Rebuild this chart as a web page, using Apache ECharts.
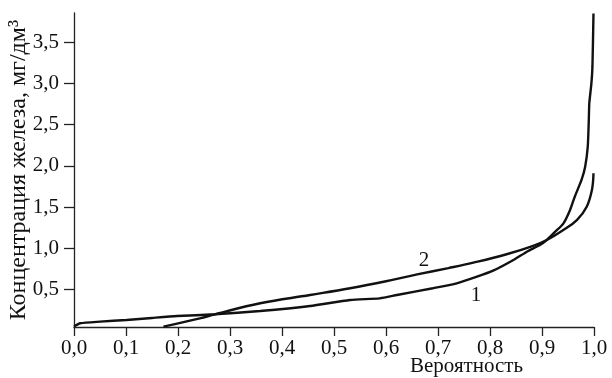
<!DOCTYPE html>
<html><head><meta charset="utf-8">
<script src="https://cdn.jsdelivr.net/npm/echarts@6/dist/echarts.min.js"></script>
<style>html,body{margin:0;padding:0;background:#fff}#c{width:612px;height:378px}</style>
</head><body><div id="c"></div>
<script>
const xTicks = [0,0.1,0.2,0.3,0.4,0.5,0.6,0.7,0.8,0.9,1.0];
const yTicks = [0.5,1.0,1.5,2.0,2.5,3.0,3.5];
const curve1X = [0,0.012,0.05,0.101,0.15,0.198,0.271,0.358,0.454,0.531,0.588,0.621,0.69,0.736,0.775,0.806,0.845,0.871,0.896,0.909,0.925,0.941,0.954,0.963,0.976,0.983,0.988,0.990,0.991,0.995,0.997,0.999];
const curve1Y = [0.05,0.09,0.11,0.13,0.155,0.178,0.199,0.239,0.30,0.373,0.393,0.433,0.515,0.575,0.655,0.728,0.858,0.959,1.04,1.10,1.20,1.30,1.465,1.626,1.829,1.99,2.233,2.557,2.763,3.0,3.204,3.85];
const curve2X = [0.172,0.242,0.271,0.358,0.454,0.531,0.60,0.66,0.72,0.768,0.832,0.883,0.909,0.941,0.967,0.986,0.996,0.999];
const curve2Y = [0.049,0.15,0.199,0.333,0.433,0.515,0.60,0.683,0.76,0.826,0.928,1.03,1.10,1.222,1.343,1.505,1.708,1.91];
const seriesNames = ['1','2'];
const labelPos = [[0.773,0.433],[0.673,0.858]];

const zip = (a,b)=>a.map((v,i)=>[v,b[i]]);
const font = '"Liberation Serif", "Times New Roman", serif';
const chart = echarts.init(document.getElementById('c'), null, {renderer:'canvas'});
function mk(name, xs, ys, pos, smooth){
  return {
    type:'line', name, data: zip(xs,ys), showSymbol:false, smooth,
    lineStyle:{color:'#111', width:2.4}, silent:true, animation:false,
    markPoint:{symbol:'circle', symbolSize:0, silent:true,
      label:{show:true, formatter:name, color:'#111', fontFamily:font, fontSize:21, position:'inside'},
      data:[{coord:pos}]}
  };
}
chart.setOption({
  animation:false,
  grid:{left:74,right:18,top:13,bottom:51,containLabel:false,outerBoundsMode:'none'},
  xAxis:{type:'value',min:0,max:1,interval:0.1,
    axisLine:{show:true,lineStyle:{color:'#222',width:1.3}},
    axisTick:{show:true,length:9,lineStyle:{color:'#222',width:1.3}},
    splitLine:{show:false},
    axisLabel:{color:'#111',fontFamily:font,fontSize:21,margin:11,
      formatter:v=>v.toFixed(1).replace('.',',')}},
  yAxis:{type:'value',min:0.045,max:3.855,
    axisLine:{show:true,lineStyle:{color:'#222',width:1.3}},
    axisTick:{show:true,length:10,customValues:yTicks,lineStyle:{color:'#222',width:1.3}},
    splitLine:{show:false},
    axisLabel:{color:'#111',fontFamily:font,fontSize:21,margin:15,customValues:yTicks,
      formatter:v=>v.toFixed(1).replace('.',',')},
    name:'Концентрация железа, мг/дм³', nameLocation:'middle', nameGap:43, nameMoveOverlap:false,
    nameTextStyle:{color:'#111',fontFamily:font,fontSize:24}},
  graphic:[{type:'text',left:410,top:356,style:{text:'Вероятность',fill:'#111',font:'21px '+font}}],
  series:[mk(seriesNames[0],curve1X,curve1Y,labelPos[0],0.2), mk(seriesNames[1],curve2X,curve2Y,labelPos[1],0.4)]
});
</script></body></html>
